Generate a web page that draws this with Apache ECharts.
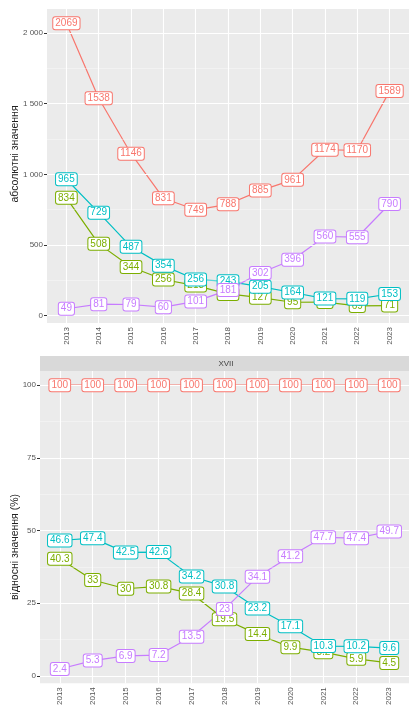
<!DOCTYPE html>
<html>
<head>
<meta charset="utf-8">
<script src="https://cdn.jsdelivr.net/npm/echarts@6/dist/echarts.min.js"></script>
<style>
html,body{margin:0;padding:0;background:#fff;}
#chart{width:409px;height:708px;}
</style>
</head>
<body>
<div id="chart"></div>
<script>
// ---- data ----
const years = [2013, 2014, 2015, 2016, 2017, 2018, 2019, 2020, 2021, 2022, 2023];
const seriesNames = ['total', 'g2', 'g3', 'g4'];
const colors = ['#F8766D', '#7CAE00', '#00BFC4', '#C77CFF'];

const absTotal = [2069, 1538, 1146, 831, 749, 788, 885, 961, 1174, 1170, 1589];
const absOlive = [834, 508, 344, 256, 213, 154, 127, 95, 96, 69, 71];
const absCyan  = [965, 729, 487, 354, 256, 243, 205, 164, 121, 119, 153];
const absPurple = [49, 81, 79, 60, 101, 181, 302, 396, 560, 555, 790];

const relTotal = [100, 100, 100, 100, 100, 100, 100, 100, 100, 100, 100];
const relOlive = [40.3, 33, 30, 30.8, 28.4, 19.5, 14.4, 9.9, 8.2, 5.9, 4.5];
const relCyan  = [46.6, 47.4, 42.5, 42.6, 34.2, 30.8, 23.2, 17.1, 10.3, 10.2, 9.6];
const relPurple = [2.4, 5.3, 6.9, 7.2, 13.5, 23, 34.1, 41.2, 47.7, 47.4, 49.7];

const absTicks = [0, 500, 1000, 1500, 2000];
const absMinor = [250, 750, 1250, 1750];
const relTicks = [0, 25, 50, 75, 100];
const relMinor = [12.5, 37.5, 62.5, 87.5];

const stripLabel = 'XVII';
const absTitle = 'абсолютні значення';
const relTitle = 'відносні значення (%)';

// ---- build ----
const FONT = 'Liberation Sans, Arial, sans-serif';
const absData = [absTotal, absOlive, absCyan, absPurple];
const relData = [relTotal, relOlive, relCyan, relPurple];

function pairs(arr) { return arr.map((v, i) => [years[i], v]); }
function fmtThousands(v) {
  const s = String(v);
  return s.length > 3 ? s.slice(0, s.length - 3) + ' ' + s.slice(-3) : s;
}

const chart = echarts.init(document.getElementById('chart'), null, {renderer: 'canvas'});

function xAxisDef(gi) {
  return {
    type: 'value', gridIndex: gi, min: 2012.4, max: 2023.6,
    axisLine: {show: false},
    axisTick: {show: true, customValues: years, length: 3, lineStyle: {color: '#333', width: 1}},
    axisLabel: {show: true, customValues: years, rotate: 90, fontSize: 8, color: '#555', margin: 4, fontFamily: FONT,
      formatter: v => String(v)},
    splitLine: {show: false}
  };
}
function yAxisDef(gi, min, max, ticks, fmt) {
  return {
    type: 'value', gridIndex: gi, min: min, max: max,
    axisLine: {show: false},
    axisTick: {show: true, customValues: ticks, length: 3, lineStyle: {color: '#333', width: 1}},
    axisLabel: {show: true, customValues: ticks, fontSize: 8, color: '#555', margin: 4, fontFamily: FONT, formatter: fmt},
    splitLine: {show: false}
  };
}

function gridSeries(gi, yMajor, yMinor) {
  const lines = [];
  yMinor.forEach(v => lines.push({yAxis: v, lineStyle: {color: 'rgba(255,255,255,0.6)', width: 0.6}}));
  yMajor.forEach(v => lines.push({yAxis: v, lineStyle: {color: '#FFFFFF', width: 1.1}}));
  years.forEach(v => lines.push({xAxis: v, lineStyle: {color: '#FFFFFF', width: 1.1}}));
  return {
    type: 'line', xAxisIndex: gi, yAxisIndex: gi, data: [], z: 1, silent: true,
    markLine: {silent: true, symbol: ['none', 'none'], label: {show: false}, animation: false,
      lineStyle: {type: 'solid'}, data: lines}
  };
}

const series = [];
series.push(gridSeries(0, absTicks, absMinor));
series.push(gridSeries(1, relTicks, relMinor));

[absData, relData].forEach((set, gi) => {
  set.forEach((arr, k) => {
    series.push({
      type: 'line', name: seriesNames[k], xAxisIndex: gi, yAxisIndex: gi, data: pairs(arr),
      showSymbol: false, symbol: 'none', z: 2, silent: true, animation: false,
      lineStyle: {color: colors[k], width: 1.2}
    });
  });
  set.forEach((arr, k) => {
    series.push({
      type: 'scatter', name: seriesNames[k] + '_lbl', xAxisIndex: gi, yAxisIndex: gi, data: pairs(arr),
      symbolSize: 1, itemStyle: {color: 'rgba(0,0,0,0)', opacity: 1}, zlevel: 1, z: 3 + k, silent: true, animation: false,
      label: {show: true, position: 'inside', formatter: p => String(p.value[1]), opacity: 1,
        color: colors[k], fontSize: 10, lineHeight: 10, fontFamily: FONT,
        textBorderWidth: 0, textBorderColor: 'transparent', textShadowBlur: 0,
        backgroundColor: '#FFFFFF', borderColor: colors[k], borderWidth: 1, borderRadius: 2,
        padding: [1, 2, 1, 2]},
      labelLayout: {hideOverlap: false}
    });
  });
});

chart.setOption({
  animation: false,
  backgroundColor: '#FFFFFF',
  grid: [
    {left: 47, top: 9, width: 365, height: 314, show: true, backgroundColor: '#EBEBEB', borderWidth: 0, containLabel: false},
    {left: 40, top: 371, width: 372, height: 313, show: true, backgroundColor: '#EBEBEB', borderWidth: 0, containLabel: false}
  ],
  xAxis: [xAxisDef(0), xAxisDef(1)],
  yAxis: [
    yAxisDef(0, -52, 2170, absTicks, v => fmtThousands(v)),
    yAxisDef(1, -2.48, 104.88, relTicks, v => String(v))
  ],
  graphic: [
    {type: 'rect', left: 40, top: 356, shape: {width: 372, height: 15}, style: {fill: '#D9D9D9'}, z: 0},
    {type: 'text', x: 226, y: 364, style: {text: stripLabel, fontSize: 8, fill: '#444', align: 'center', verticalAlign: 'middle', font: '8px ' + FONT}, z: 1},
    {type: 'text', x: 15, y: 154, rotation: Math.PI / 2, style: {text: absTitle, fill: '#222', align: 'center', verticalAlign: 'middle', font: '10.5px ' + FONT}, z: 1},
    {type: 'text', x: 15, y: 547, rotation: Math.PI / 2, style: {text: relTitle, fill: '#222', align: 'center', verticalAlign: 'middle', font: '10.5px ' + FONT}, z: 1}
  ],
  series: series
});
</script>
</body>
</html>
